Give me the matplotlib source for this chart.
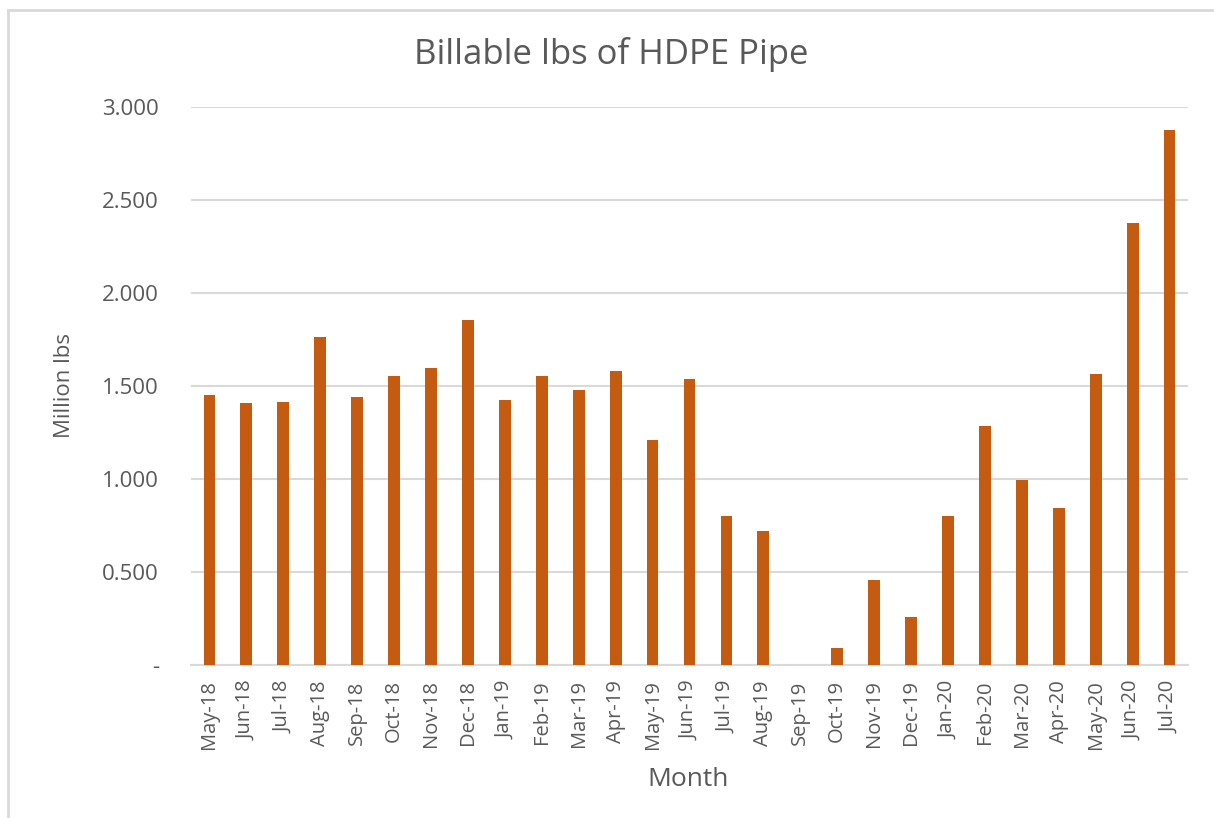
import matplotlib.pyplot as plt
import numpy as np
from matplotlib.lines import Line2D

months = ["May-18", "Jun-18", "Jul-18", "Aug-18", "Sep-18", "Oct-18", "Nov-18",
          "Dec-18", "Jan-19", "Feb-19", "Mar-19", "Apr-19", "May-19", "Jun-19",
          "Jul-19", "Aug-19", "Sep-19", "Oct-19", "Nov-19", "Dec-19", "Jan-20",
          "Feb-20", "Mar-20", "Apr-20", "May-20", "Jun-20", "Jul-20"]
million_lbs = [1.454, 1.407, 1.415, 1.761, 1.441, 1.556, 1.598, 1.856, 1.427,
               1.556, 1.476, 1.583, 1.210, 1.538, 0.801, 0.719, 0.0, 0.093,
               0.455, 0.258, 0.801, 1.286, 0.993, 0.842, 1.565, 2.374, 2.878]
yticks = [0, 0.5, 1.0, 1.5, 2.0, 2.5, 3.0]
ytick_labels = ["-", "0.500", "1.000", "1.500", "2.000", "2.500", "3.000"]

bar_color = "#C55A11"
text_color = "#595959"
grid_color = "#D9D9D9"

plt.rcParams['font.family'] = ['Open Sans', 'DejaVu Sans']

W, H = 1214, 818
fig = plt.figure(figsize=(W / 100, H / 100), dpi=100)
ax = fig.add_axes([191 / W, 1 - 665 / H, 997 / W, 558 / H])

x = np.arange(len(months))
ax.bar(x, million_lbs, width=0.32, color=bar_color, zorder=3)

ax.set_xlim(-0.5, len(months) - 0.5)
ax.set_ylim(0, 3.0)
ax.set_yticks(yticks)
ax.set_yticklabels(ytick_labels)
ax.set_xticks(x)
ax.set_xticklabels(months, rotation=90)
ax.tick_params(axis='both', length=0, colors=text_color)
ax.tick_params(axis='y', pad=23, labelsize=16)
ax.tick_params(axis='x', pad=11, labelsize=14.5)

ax.grid(axis='y', color=grid_color, linewidth=1.5, zorder=0)
for s in ["top", "right", "left"]:
    ax.spines[s].set_visible(False)
ax.spines["bottom"].set_color(grid_color)
ax.spines["bottom"].set_linewidth(1.5)

fig.text(611 / W, 1 - 54 / H, "Billable lbs of HDPE Pipe", color=text_color,
         fontsize=25, ha="center", va="center")
fig.text(65 / W, 1 - 386 / H, "Million lbs", color=text_color, fontsize=16,
         rotation=90, ha="center", va="center")
fig.text(688 / W, 1 - 779 / H, "Month", color=text_color, fontsize=19,
         ha="center", va="center")

# light frame around the chart area
fig.add_artist(Line2D([8 / W, 8 / W], [0, 1 - 10 / H], color=grid_color, lw=2, transform=fig.transFigure))
fig.add_artist(Line2D([8 / W, 1], [1 - 10 / H, 1 - 10 / H], color=grid_color, lw=2, transform=fig.transFigure))

fig.savefig("out.png", dpi=100)
